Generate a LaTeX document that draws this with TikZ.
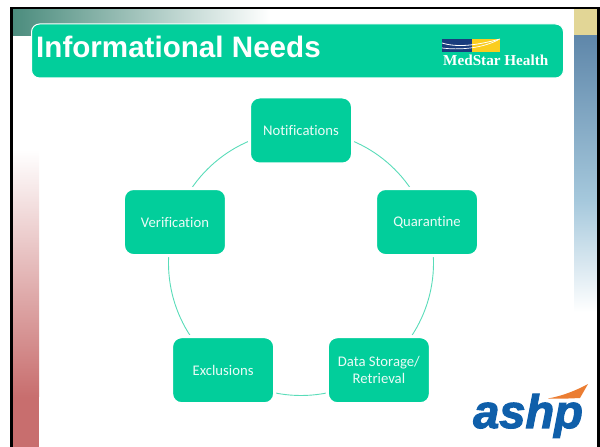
\documentclass[tikz,border=0pt]{standalone}
\usepackage{fontspec}
\setmainfont{Carlito}[Ligatures=NoCommon]
\newfontfamily\titlef{Liberation Sans}
\newfontfamily\medf{Liberation Serif}
\newfontfamily\ashpf[BoldItalicFeatures={FakeBold=2.4}]{Liberation Sans}
\usetikzlibrary{backgrounds,calc}
\definecolor{brandgreen}{RGB}{2,206,155}
\definecolor{ringgreen}{RGB}{90,220,185}
\definecolor{tealstart}{RGB}{75,140,125}
\definecolor{rosered}{RGB}{200,110,110}
\definecolor{tanband}{RGB}{226,214,150}
\definecolor{steeltop}{RGB}{95,135,170}
\definecolor{steelmid}{RGB}{165,200,220}
\definecolor{navyflag}{RGB}{25,60,125}
\definecolor{goldflag}{RGB}{250,205,30}
\definecolor{ashpblue}{RGB}{15,95,170}
\definecolor{ashporange}{RGB}{235,125,50}
\tikzset{
  stepbox/.style={rectangle,rounded corners=10pt,fill=brandgreen,draw=white,line width=3pt,
    minimum width=103pt,minimum height=67pt,inner sep=0pt,align=center,text=white!92!brandgreen,
    font=\fontsize{14.7}{16.5}\selectfont},
  ring/.style={draw=ringgreen,line width=0.9pt}
}
\begin{document}
\begin{tikzpicture}[x=1pt,y=1pt]
\useasboundingbox (0,0) rectangle (600,447);
% decorative bands
\shade[left color=tealstart,right color=white,draw=none] (12,411) rectangle (270,438);
\shade[top color=white,bottom color=rosered,draw=none] (12,297) rectangle (39,50);
\fill[rosered] (12,0) rectangle (39,50);
\fill[tanband] (574,411) rectangle (597,438);
\shade[top color=steeltop,bottom color=steelmid,draw=none] (574,411) rectangle (597,247);
\shade[top color=steelmid,bottom color=white,draw=none] (574,247) rectangle (597,135);
% frame
\fill[black] (10,0) rectangle (12.5,440);
\fill[black] (10,437.6) rectangle (599.5,440);
\fill[black] (597,0) rectangle (599.5,440);
% title bar
\node[name=titlebar,rectangle,rounded corners=8pt,fill=brandgreen,draw=white,line width=1pt,
  minimum width=532pt,minimum height=54pt,inner sep=0pt] at (297.5,396) {};
\node[name=titletext,anchor=base west,inner sep=0pt,text=white,font=\titlef\bfseries\fontsize{29.6}{32}\selectfont]
  at (36,389.3) {Informational Needs};
% MedStar logo
\fill[navyflag] (442,395) rectangle (472,408);
\fill[goldflag] (472,395) rectangle (500,408);
\draw[white,line width=0.8pt] (442,404) .. controls (458,399) and (478,402) .. (500,408);
\draw[white,line width=0.7pt] (442,399) .. controls (458,397) and (480,398) .. (498,407);
\node[name=medstar,anchor=base west,inner sep=0pt,text=white,
  font=\medf\bfseries\fontsize{15.2}{17}\selectfont] at (443,381.5) {MedStar Health};
% diagram
\coordinate (c) at (301,184);
\node[stepbox] (notif) at ($(c)+(90:132.5)$) {Notifications};
\node[stepbox] (quar) at ($(c)+(18:132.5)$) {Quarantine};
\node[stepbox] (data) at ($(c)+(-54:132.5)$) {Data Storage/\\Retrieval};
\node[stepbox] (excl) at ($(c)+(-126:132.5)$) {Exclusions};
\node[stepbox] (veri) at ($(c)+(162:132.5)$) {Verification};
\begin{scope}[on background layer]
  \draw[ring] (notif.center) arc[start angle=90,end angle=18,radius=132.5pt];
  \draw[ring] (quar.center) arc[start angle=18,end angle=-54,radius=132.5pt];
  \draw[ring] (data.center) arc[start angle=-54,end angle=-126,radius=132.5pt];
  \draw[ring] (excl.center) arc[start angle=-126,end angle=-198,radius=132.5pt];
  \draw[ring] (veri.center) arc[start angle=162,end angle=90,radius=132.5pt];
\end{scope}
% ashp logo
\fill[ashporange] (548,48.5) .. controls (562,51) and (575,56) .. (588,63) -- (580,49)
  .. controls (570,48.5) and (558,48) .. (548,48.5) -- cycle;
\node[name=ashp,anchor=base west,inner sep=0pt,text=ashpblue,
  font=\ashpf\bfseries\itshape\fontsize{47}{50}\selectfont] at (473,19) {ashp};
\end{tikzpicture}
\end{document}
